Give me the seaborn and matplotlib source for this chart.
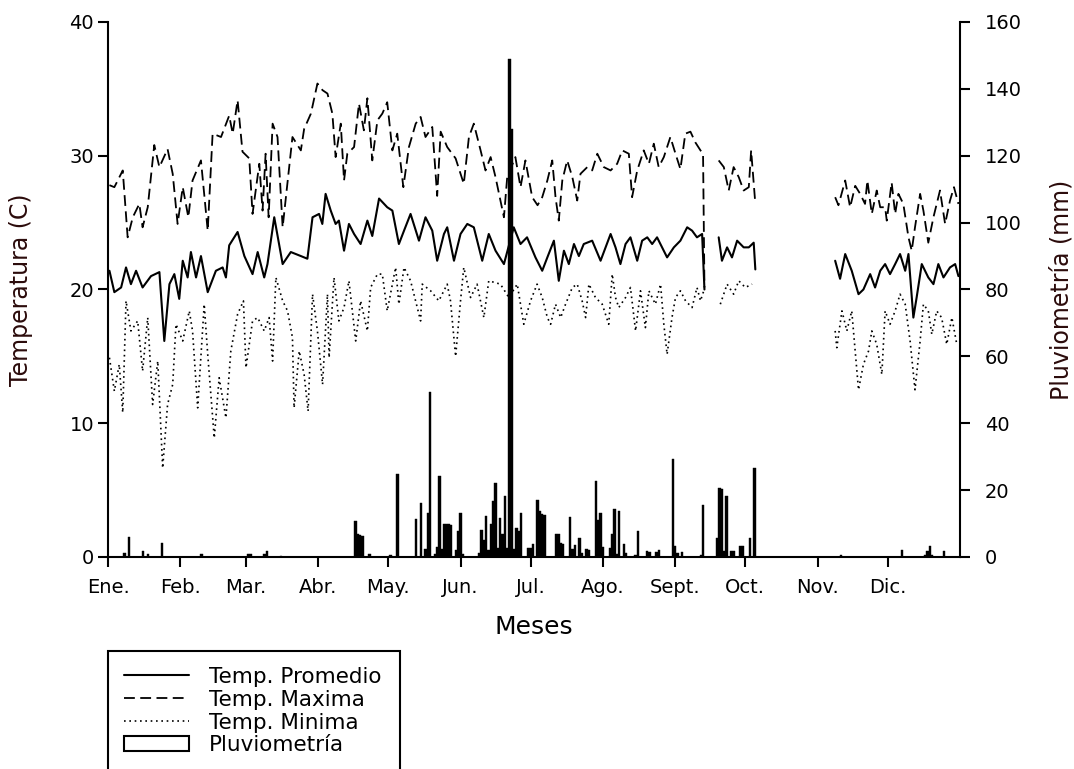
import numpy as np
import pandas as pd
import matplotlib
matplotlib.use('Agg')
import matplotlib.pyplot as plt
import seaborn as sns
from matplotlib.lines import Line2D
from matplotlib.patches import Patch, Rectangle

# --- datos (dia del año, valor) ---
meses = ['Ene.', 'Feb.', 'Mar.', 'Abr.', 'May.', 'Jun.', 'Jul.', 'Ago.', 'Sept.', 'Oct.', 'Nov.', 'Dic.']
inicio_mes = [0, 31, 59, 90, 120, 151, 181, 212, 243, 273, 304, 334]

dia_max = [0.6, 2.7, 6.3, 8.4, 10.6, 13.4, 14.8, 17.0, 19.8, 22.0, 25.5, 27.7, 29.8, 32.0, 34.4, 36.2,
           39.8, 42.7, 44.8, 48.4, 51.9, 53.4, 55.5, 57.6, 60.5, 61.9, 64.8, 66.2, 67.5, 68.8, 70.5,
           72.6, 74.8, 79.0, 82.6, 84.0, 86.9, 89.7, 91.9, 94.0, 96.1, 97.5, 99.7, 101.1, 102.5,
           105.4, 107.5, 109.6, 111.1, 113.2, 115.4, 117.5, 119.6, 121.8, 123.9, 126.5, 128.9,
           131.8, 133.9, 136.0, 138.9, 141.0, 142.5, 145.3, 148.9, 152.4, 154.6, 156.7, 159.6,
           161.7, 163.9, 166.0, 169.6, 171.0, 174.5, 176.7, 178.8, 181.7, 184.0, 186.0, 188.2,
           190.3, 191.7, 193.1, 194.6, 196.7, 198.9, 201.0, 202.4, 205.3, 207.4, 209.6, 212.4,
           215.3, 218.1, 220.3, 223.1, 224.5, 226.7, 229.5, 231.7, 233.8, 235.9, 238.1, 240.9,
           243.1, 245.2, 247.3, 249.5, 251.6, 253.8, 254.9, 255.5,
           261.6, 263.8, 265.9, 268.0, 270.2, 272.3, 274.5, 275.5, 277.3,
           311.5, 312.9, 315.8, 317.9, 320.1, 322.2, 324.3, 325.3, 327.2, 329.3, 330.8, 332.9,
           333.6, 335.7, 337.2, 338.6, 340.7, 342.9, 344.3, 345.7, 347.9, 349.3, 351.4, 353.6,
           356.4, 358.6, 360.7, 362.4, 364.3]
t_max = [27.8, 27.65, 28.9, 23.9, 25.4, 26.4, 24.65, 26.15, 30.8, 29.15, 30.5, 28.65, 24.9, 27.65, 25.4, 28.15,
         29.65, 24.4, 31.65, 31.4, 33.0, 31.65, 34.15, 30.3, 29.8, 25.65, 29.4, 25.9, 30.15, 25.4, 32.4,
         31.4, 24.65, 31.4, 30.4, 32.0, 33.15, 35.4, 34.9, 34.65, 33.15, 29.9, 32.4, 28.15, 30.15,
         30.65, 33.9, 31.9, 34.3, 29.65, 32.65, 33.15, 34.0, 30.4, 31.65, 27.65, 30.65,
         32.4, 32.9, 31.4, 32.15, 27.0, 31.8, 30.65, 29.8, 27.9, 31.4, 32.4, 30.4,
         28.9, 29.9, 28.4, 25.4, 28.4, 29.9, 27.65, 29.65, 26.9, 26.3, 26.9, 28.15,
         29.65, 26.9, 25.15, 28.15, 29.65, 28.4, 26.65, 28.65, 29.15, 28.9, 30.15, 29.15,
         28.9, 29.4, 30.4, 30.15, 26.9, 28.9, 30.4, 29.4, 30.9, 29.15, 29.9, 31.4,
         30.15, 29.0, 31.65, 31.8, 31.0, 30.4, 30.15, 20.15,
         29.65, 29.15, 27.4, 29.15, 28.4, 27.4, 27.65, 30.4, 26.4,
         26.9, 26.3, 28.15, 26.15, 27.75, 27.15, 26.4, 28.15, 25.65, 27.4, 26.15, 26.15,
         25.15, 28.0, 25.65, 27.15, 26.4, 23.9, 22.9, 24.65, 27.15, 25.9, 23.5, 25.4,
         27.4, 24.9, 26.65, 27.65, 26.4]

dia_prom = [0.6, 2.7, 5.6, 7.7, 9.8, 12.0, 14.8, 18.4, 22.0, 24.1, 26.3, 28.4, 30.5, 32.0, 34.1, 35.5,
            37.7, 39.8, 42.7, 46.2, 49.1, 50.5, 51.9, 55.5, 58.4, 61.9, 64.1, 66.9, 68.3, 71.2, 74.8,
            78.3, 82.6, 85.4, 87.6, 90.4, 91.8, 93.2, 95.4, 97.5, 98.9, 101.1, 103.2, 105.4, 108.2,
            111.1, 113.2, 116.1, 119.6, 121.8, 124.6, 126.8, 129.6, 133.2, 136.0, 138.9, 141.0,
            143.9, 145.3, 148.2, 151.0, 153.9, 156.7, 160.3, 163.1, 166.0, 169.6, 173.8, 176.7,
            179.5, 183.1, 186.0, 188.2, 191.0, 193.1, 195.3, 197.4, 199.6, 201.7, 203.8, 207.4,
            211.0, 215.3, 217.4, 219.5, 221.7, 223.8, 226.7, 228.8, 231.0, 233.1, 235.2, 239.5,
            242.4, 245.2, 248.1, 250.2, 252.3, 254.5, 255.5,
            261.6, 263.0, 265.2, 267.3, 269.5, 272.3, 274.5, 276.6, 277.3,
            311.5, 313.6, 315.8, 318.6, 321.5, 323.6, 326.5, 328.6, 330.8, 332.9, 335.0, 337.2,
            339.3, 341.5, 342.9, 345.0, 346.4, 348.6, 351.4, 353.6, 355.7, 357.9, 360.7, 362.9, 364.3]
t_prom = [21.4, 19.8, 20.15, 21.65, 20.4, 21.4, 20.15, 21.0, 21.3, 16.15, 20.4, 21.15, 19.3, 22.15, 20.9, 22.8,
          20.9, 22.5, 19.8, 21.4, 21.65, 20.9, 23.3, 24.3, 22.5, 21.15, 22.8, 20.9, 21.9, 25.4, 21.9,
          22.8, 22.5, 22.3, 25.4, 25.65, 24.9, 27.15, 25.9, 24.9, 25.15, 22.9, 24.9, 24.15, 23.4,
          25.15, 24.0, 26.8, 26.15, 25.9, 23.4, 24.4, 25.65, 23.65, 25.4, 24.4, 22.15,
          24.15, 24.65, 22.15, 24.15, 24.9, 24.65, 22.15, 24.15, 22.9, 21.9, 24.65, 23.4,
          23.9, 22.4, 21.4, 22.4, 23.65, 20.65, 22.9, 21.9, 23.4, 22.5, 23.4, 23.65,
          22.15, 24.15, 23.15, 21.9, 23.4, 23.9, 22.15, 23.65, 23.9, 23.4, 23.9, 22.4,
          23.15, 23.65, 24.65, 24.4, 23.9, 24.15, 20.0,
          23.9, 22.15, 23.15, 22.4, 23.65, 23.15, 23.15, 23.5, 21.5,
          22.15, 20.8, 22.65, 21.4, 19.65, 20.0, 21.15, 20.15, 21.4, 21.9, 21.15, 21.9,
          22.65, 21.4, 22.65, 17.9, 19.4, 21.9, 20.9, 20.4, 21.9, 20.9, 21.65, 21.9, 21.0]

dia_min = [0.6, 2.7, 4.8, 6.3, 7.7, 9.8, 12.7, 14.8, 17.0, 19.1, 21.3, 23.4, 25.5, 27.7, 29.1, 32.0,
           34.8, 36.2, 38.4, 41.2, 42.7, 45.5, 47.6, 50.5, 52.6, 55.5, 58.0, 59.1, 61.9, 64.1, 66.9,
           69.0, 70.5, 71.9, 74.8, 76.9, 79.0, 79.7, 81.9, 84.0, 85.7, 87.6, 89.7, 91.9, 94.0, 94.7,
           96.8, 98.9, 101.1, 103.2, 106.1, 108.2, 111.1, 112.5, 115.4, 117.5, 119.6, 123.2, 124.6,
           126.8, 129.6, 133.9, 134.6, 138.2, 141.7, 145.3, 146.7, 148.9, 151.0, 152.4, 155.3,
           158.1, 161.0, 163.1, 168.1, 171.7, 175.3, 178.1, 181.0, 183.8, 186.0, 188.2, 189.6,
           191.7, 193.9, 196.0, 198.9, 201.0, 203.1, 204.6, 206.0, 208.8, 211.7, 214.5, 216.0,
           217.4, 218.8, 221.7, 223.8, 226.0, 228.1, 230.2, 231.7, 234.5, 236.7, 238.1, 239.5,
           241.6, 243.1, 245.2, 247.4, 250.2, 252.3, 253.8, 255.2,
           262.3, 265.2, 268.0, 270.2, 273.0, 275.9,
           311.5, 312.2, 314.4, 316.5, 318.6, 321.5, 323.6, 325.8, 327.2, 329.3, 331.5, 332.9,
           335.0, 337.2, 339.3, 341.5, 343.6, 345.7, 347.9, 349.3, 351.4, 352.9, 355.0, 357.1,
           359.3, 361.5, 363.6]
t_min = [14.9, 12.4, 14.4, 10.8, 19.15, 16.9, 17.65, 13.9, 17.9, 11.4, 14.65, 6.65, 11.4, 12.9, 17.4, 16.15,
         18.4, 16.9, 11.15, 18.9, 15.15, 8.9, 13.4, 10.4, 15.4, 18.15, 19.15, 14.15, 17.65, 17.9, 16.9,
         17.9, 14.65, 20.9, 19.15, 18.4, 16.4, 11.15, 15.4, 13.65, 10.9, 19.65, 16.9, 12.9, 19.65, 14.9,
         20.9, 17.65, 18.65, 20.65, 16.15, 19.15, 16.9, 20.15, 21.15, 21.15, 18.4, 21.65, 18.9,
         21.65, 20.65, 17.65, 20.4, 19.9, 19.15, 20.4, 19.15, 15.0, 19.15, 21.65, 19.4,
         20.4, 17.9, 20.65, 20.4, 19.4, 20.4, 17.4, 19.15, 20.4, 19.4, 17.9, 17.4,
         18.9, 17.9, 18.9, 20.15, 20.4, 19.15, 17.9, 20.4, 19.4, 18.9, 17.4, 21.15,
         19.4, 18.65, 19.4, 20.15, 16.9, 19.9, 17.15, 19.9, 18.9, 20.4, 17.4, 15.15,
         17.9, 19.4, 19.9, 19.15, 18.65, 20.15, 19.15, 19.9,
         18.9, 20.4, 19.65, 20.65, 20.15, 20.4,
         16.9, 15.65, 18.4, 16.9, 18.4, 12.5, 14.4, 15.4, 16.9, 15.9, 13.65, 18.4,
         17.4, 18.4, 19.65, 18.9, 16.15, 12.5, 16.15, 18.9, 18.4, 16.65, 18.4, 17.9,
         15.9, 17.9, 15.9]

dia_lluvia = [7, 9, 15, 17, 23, 40, 60, 61, 67, 68, 74, 106, 107, 108, 109, 112, 121, 124,
              132, 134, 136, 137, 138, 140, 141, 142, 143, 144, 145, 146, 147, 149, 150, 151, 152,
              159, 160, 161, 162, 163, 164, 165, 166, 167, 168, 169, 170, 171, 172, 173, 174, 175,
              176, 177, 180, 181, 182, 184, 185, 186, 187, 192, 193, 194, 195, 198, 199, 200, 202,
              203, 205, 206, 209, 210, 211, 212, 215, 216, 217, 218, 219, 221, 222, 226, 227, 231,
              232, 235, 236, 242, 243, 244, 246, 254, 255, 261, 262, 263, 264, 265, 267, 268, 271,
              272, 275, 277, 314, 340, 350, 351, 352, 353, 358]
lluvia = [1.3, 6.0, 1.8, 0.8, 4.3, 0.8, 1.0, 1.0, 1.0, 1.8, 0.4, 10.8, 7.0, 6.5, 6.3, 0.8, 0.5, 24.7,
          11.3, 16.0, 2.3, 13.3, 49.2, 1.0, 3.0, 24.2, 2.3, 9.8, 9.8, 9.8, 9.6, 2.0, 7.8, 13.1, 0.8,
          1.3, 8.0, 5.0, 12.3, 2.0, 9.8, 16.7, 22.0, 2.8, 11.8, 6.8, 18.2, 2.8, 149.0, 128.0, 2.3, 8.8,
          7.8, 13.1, 2.6, 2.8, 3.8, 17.0, 13.8, 13.0, 12.6, 7.0, 6.8, 4.3, 4.0, 12.0, 2.3, 3.6, 5.6,
          1.1, 2.3, 2.0, 22.7, 11.0, 13.3, 3.1, 2.6, 7.0, 14.5, 0.8, 13.8, 4.0, 1.3, 0.6, 7.8, 1.8,
          1.6, 1.6, 2.0, 29.2, 3.3, 1.3, 1.6, 0.6, 15.5, 5.6, 20.5, 20.3, 1.8, 18.2, 1.8, 1.8, 3.3,
          3.3, 5.6, 26.5, 0.5, 2.0, 0.6, 1.8, 3.3, 0.6, 1.8]


def tabla(dias, valores):
    df = pd.DataFrame({'dia': dias, 'valor': valores})
    # tramos sin datos: mediados de sept. y oct.-nov.
    df['tramo'] = np.digitize(df['dia'], [258, 290])
    return df


sns.set_style('ticks')
plt.rcParams['font.family'] = ['DejaVu Sans']
plt.rcParams.update({'text.color': 'k', 'axes.labelcolor': 'k',
                     'xtick.color': 'k', 'ytick.color': 'k', 'axes.edgecolor': 'k'})

fig = plt.figure(figsize=(10.74, 7.69), dpi=100)
ax = fig.add_axes([0.1006, 0.2757, 0.7933, 0.6957])

estilo_max = (0, (6, 3))
estilo_min = (0, (1, 2.2))

sns.lineplot(data=tabla(dia_prom, t_prom), x='dia', y='valor', units='tramo', estimator=None,
             color='k', lw=1.5, ax=ax, legend=False)
sns.lineplot(data=tabla(dia_max, t_max), x='dia', y='valor', units='tramo', estimator=None,
             color='k', lw=1.3, linestyle=estilo_max, ax=ax, legend=False)
sns.lineplot(data=tabla(dia_min, t_min), x='dia', y='valor', units='tramo', estimator=None,
             color='k', lw=1.2, linestyle=estilo_min, ax=ax, legend=False)

ax.set_xlim(0, 365)
ax.set_ylim(0, 40)
ax.set_yticks(range(0, 41, 10))
ax.set_xticks(inicio_mes)
ax.set_xticklabels(meses)
ax.set_xlabel('Meses', fontsize=18, labelpad=13)
ax.set_ylabel('Temperatura (C)', fontsize=17, labelpad=26, color='#2b0b0b')
ax.tick_params(axis='both', labelsize=14, length=7, width=1.5, direction='out')
ax.tick_params(axis='x', pad=8)
ax.tick_params(axis='y', pad=3)
ax.spines['top'].set_visible(False)
ax.spines['right'].set_visible(False)
for s in ['left', 'bottom']:
    ax.spines[s].set_linewidth(1.5)

ax2 = ax.twinx()
ax2.bar(dia_lluvia, lluvia, width=1.0, color='k', edgecolor='k', linewidth=0.3)
ax2.set_ylim(0, 160)
ax2.set_yticks(range(0, 161, 20))
ax2.set_ylabel('Pluviometría (mm)', fontsize=17, labelpad=20, color='#2b0b0b')
ax2.tick_params(axis='y', labelsize=14, length=7, width=1.5, direction='out', pad=11)
for s in ['top', 'left', 'bottom']:
    ax2.spines[s].set_visible(False)
ax2.spines['right'].set_linewidth(1.5)

# leyenda con marco cortado por el borde inferior
manejadores = [Line2D([], [], color='k', lw=1.5),
               Line2D([], [], color='k', lw=1.3, linestyle=estilo_max),
               Line2D([], [], color='k', lw=1.2, linestyle=estilo_min),
               Patch(facecolor='white', edgecolor='k', linewidth=1.5)]
etiquetas = ['Temp. Promedio', 'Temp. Maxima', 'Temp. Minima', 'Pluviometría']
fig.legend(manejadores, etiquetas, loc='upper left', bbox_to_anchor=(124 / 1074, 1 - 667 / 769),
           frameon=False, fontsize=15.5, handlelength=3.0, handletextpad=0.93,
           labelspacing=0.13, borderaxespad=0, borderpad=0)
fig.patches.append(Rectangle((108 / 1074, -0.05), (400 - 108) / 1074, (1 - 651 / 769) + 0.05,
                             transform=fig.transFigure, fill=False, lw=1.5, ec='k'))

fig.savefig('out.png', dpi=100)
